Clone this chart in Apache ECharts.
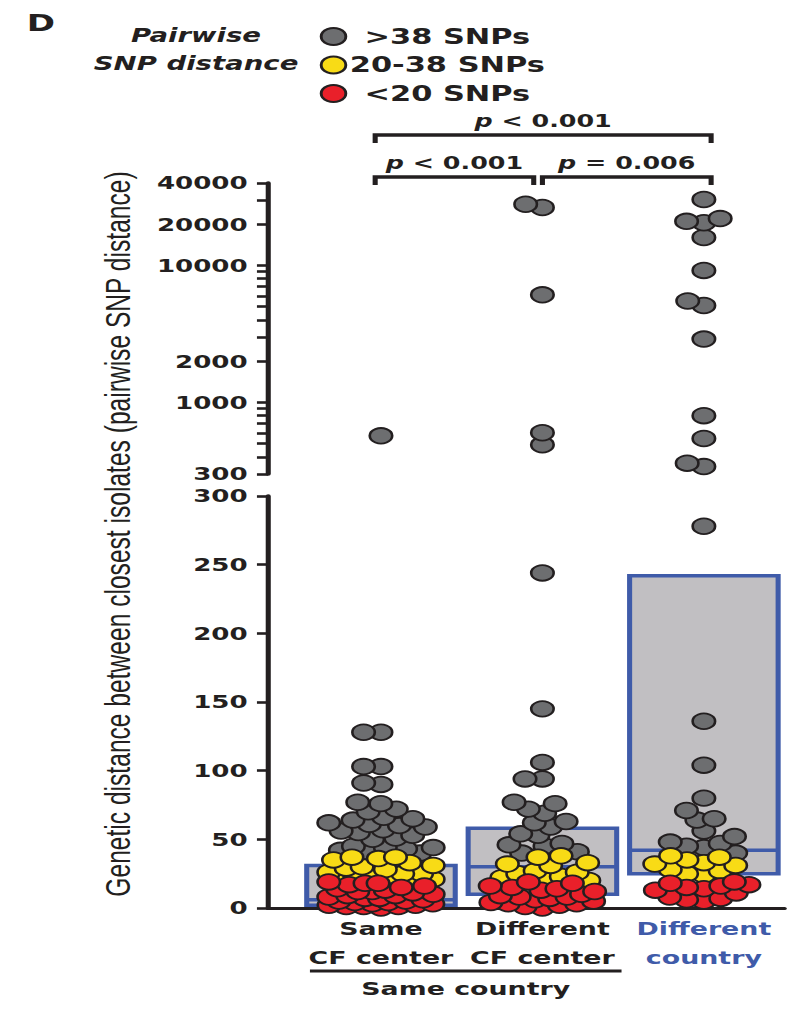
<!DOCTYPE html>
<html>
<head>
<meta charset="utf-8">
<script src="https://cdn.jsdelivr.net/npm/echarts@6/dist/echarts.min.js"></script>
<style>
html, body { margin: 0; padding: 0; background: #fff; overflow: hidden; }
/* the source figure is stretched sideways, so the chart is drawn narrow and widened */
#chart { width: 559.31px; height: 1009px; transform: scaleX(1.45); transform-origin: 0 0; }
</style>
</head>
<body>
<div id="chart"></div>
<script>
// 数据
var categories = ['Same\nCF center', 'Different\nCF center', 'Different\ncountry'];
var classNames = ['>38 SNPs', '20-38 SNPs', '<20 SNPs'];
var classColors = ['#6d6e70', '#f8db16', '#e9202a'];

var sameCenter = [570, 128, 128, 103, 103, 91, 90, 77, 76, 72, 70, 66, 65, 64, 62, 61, 60, 59, 57, 56, 55, 53, 51, 50, 45, 44, 44, 43, 42, 41, 40,
    37, 37, 36, 35, 33, 31, 30, 29, 28, 26, 25, 25, 24, 23, 22, 21, 21, 20,
    19, 18, 18, 17, 16, 15, 14, 13, 12, 12, 11, 10, 9, 9, 8, 7, 7, 6, 5, 5, 4, 4, 3, 3, 2, 2, 1, 1, 1, 0];
var diffCenter = [28000, 26500, 6100, 600, 490, 244, 145, 106, 94, 94, 77, 76, 72, 69, 63, 62, 59, 54, 53, 47, 46, 45, 41, 40,
    38, 37, 33, 32, 31, 27, 26, 25, 23, 22, 21, 20,
    19, 18, 16, 15, 14, 13, 12, 10, 9, 8, 8, 7, 6, 5, 4, 3, 3, 2, 1, 0];
var diffCountry = [30300, 22000, 21000, 20500, 16000, 9200, 5500, 5100, 2900, 800, 545, 360, 340, 278, 136, 104, 80, 71, 65, 64, 56, 52, 48, 47, 45, 44, 40,
    38, 37, 35, 33, 32, 31, 28, 27, 25, 24,
    19, 18, 17, 16, 15, 14, 13, 11, 8, 7, 6, 5];

var boxQ1 = [2, 10, 25];
var boxMedian = [6, 30, 42];
var boxQ3 = [31, 58, 242];

var logTickValues = [300, 400, 500, 600, 700, 800, 900, 1000, 2000, 3000, 4000, 5000, 6000, 7000, 8000, 9000, 10000, 20000, 30000, 40000];
var logLabelValues = [300, 1000, 2000, 10000, 20000, 40000];

var bracketPairs = [[0, 1], [1, 2], [0, 2]];
var bracketLevels = [0, 0, 1];
var pLabels = ['< 0.001', '= 0.006', '< 0.001'];

var groupPairs = [[0, 1]];
var groupNames = ['Same country'];

var ink = '#231f20';
var blue = '#3f5ba9';
var boldFont = 'DejaVu Sans';

var chart = echarts.init(document.getElementById('chart'), null, { renderer: 'svg' });

function classOf(v) {
    if (v > 38) return 0;
    if (v >= 20) return 1;
    return 2;
}

function renderBox(params, api) {
    var half = 0.46;
    var cat = api.value(0);
    var tl = api.coord([cat - half, api.value(3)]);
    var br = api.coord([cat + half, api.value(1)]);
    var m = api.coord([cat, api.value(2)]);
    return {
        type: 'group',
        children: [{
            type: 'rect',
            shape: { x: tl[0], y: tl[1], width: br[0] - tl[0], height: br[1] - tl[1] },
            style: { fill: '#c1bfc2', stroke: blue, lineWidth: 3.5 }
        }, {
            type: 'line',
            shape: { x1: tl[0], y1: m[1], x2: br[0], y2: m[1] },
            style: { stroke: blue, lineWidth: 3.5 }
        }]
    };
}

function renderBracket(params, api) {
    var a = api.value(0), b = api.value(1), level = api.value(2);
    var top = params.coordSys.y;
    var x0 = api.coord([a, 3])[0] + (a === 1 ? 0 : -4);
    var x1 = api.coord([b, 3])[0] + (b === 1 ? -6 : 5);
    var y = top - 6 - level * 42;
    return {
        type: 'group',
        children: [{
            type: 'polyline',
            shape: { points: [[x0, y + 8], [x0, y], [x1, y], [x1, y + 8]] },
            style: { stroke: ink, lineWidth: 3.5, fill: null }
        }, {
            type: 'text',
            style: {
                text: '{i|p} ' + pLabels[params.dataIndex],
                x: (x0 + x1) / 2, y: y - 5,
                align: 'center', verticalAlign: 'bottom',
                fontSize: 17.5, fontFamily: boldFont, fontWeight: 'bold', fill: ink,
                rich: { i: { fontSize: 17.5, fontFamily: boldFont, fontWeight: 'bold', fontStyle: 'italic', fill: ink } }
            }
        }]
    };
}

function renderGroup(params, api) {
    var a = api.value(0), b = api.value(1);
    var bottom = params.coordSys.y + params.coordSys.height;
    var x0 = api.coord([a - 0.44, 0])[0];
    var x1 = api.coord([b + 0.49, 0])[0];
    return {
        type: 'group',
        children: [{
            type: 'line',
            shape: { x1: x0, y1: bottom + 63, x2: x1, y2: bottom + 63 },
            style: { stroke: ink, lineWidth: 3 }
        }, {
            type: 'text',
            style: {
                text: groupNames[params.dataIndex],
                x: (x0 + x1) / 2, y: bottom + 81,
                align: 'center', verticalAlign: 'middle',
                fontSize: 18.5, fontFamily: boldFont, fontWeight: 'bold', fill: ink
            }
        }]
    };
}

var xCommon = { type: 'value', min: -0.7, max: 2.5, splitLine: { show: false } };
var dotStyle = function (k) {
    return { color: classColors[k], borderColor: ink, borderWidth: 1.8, opacity: 1 };
};

var series = [{
    id: 'boxes', type: 'custom', xAxisIndex: 1, yAxisIndex: 1, silent: true, z: 1,
    renderItem: renderBox, encode: { x: 0, y: [1, 2, 3] },
    data: boxQ1.map(function (q, i) { return [i, q, boxMedian[i], boxQ3[i]]; })
}];
for (var k = 0; k < 3; k++) {
    series.push({
        id: 'low' + k, name: classNames[k], type: 'scatter', xAxisIndex: 1, yAxisIndex: 1,
        symbolSize: 15.5, itemStyle: dotStyle(k), clip: false, z: 3 + k, data: []
    });
}
series.push({
    id: 'high0', name: classNames[0], type: 'scatter', xAxisIndex: 0, yAxisIndex: 0,
    symbolSize: 15.5, itemStyle: dotStyle(0), clip: false, z: 3, data: []
});
series.push({
    id: 'brackets', type: 'custom', xAxisIndex: 0, yAxisIndex: 0, silent: true, clip: false,
    renderItem: renderBracket, encode: { x: [0, 1] },
    data: bracketPairs.map(function (p, i) { return [p[0], p[1], bracketLevels[i]]; })
});
series.push({
    id: 'groups', type: 'custom', xAxisIndex: 1, yAxisIndex: 1, silent: true, clip: false,
    renderItem: renderGroup, encode: { x: [0, 1] },
    data: groupPairs
});

var option = {
    animation: false,
    backgroundColor: '#fff',
    textStyle: { fontFamily: boldFont },
    legend: {
        orient: 'vertical', left: 220.5, top: 26, padding: 0,
        itemWidth: 20, itemHeight: 17, itemGap: 7.5, icon: 'circle',
        selectedMode: false,
        data: classNames,
        formatter: function (name) { return '{r|' + name + '}'; },
        textStyle: {
            fontSize: 21, fontFamily: boldFont, fontWeight: 'bold', color: ink, lineHeight: 17,
            rich: { r: { width: 127, align: 'center', fontSize: 21, fontFamily: boldFont, fontWeight: 'bold', color: ink, lineHeight: 17 } }
        }
    },
    graphic: [{
        type: 'text', left: 18.4, top: 11,
        style: { text: 'D', fontSize: 23.5, fontFamily: boldFont, fontWeight: 'bold', fill: ink }
    }, {
        type: 'text', x: 135.2, y: 50,
        style: {
            text: 'Pairwise\nSNP distance', align: 'center', verticalAlign: 'middle',
            fontSize: 19, lineHeight: 28, fontFamily: boldFont, fontWeight: 'bold', fontStyle: 'italic', fill: ink
        }
    }, {
        type: 'text', x: 80.7, y: 534, rotation: Math.PI / 2,
        style: {
            text: 'Genetic distance between closest isolates (pairwise SNP distance)',
            align: 'center', verticalAlign: 'middle',
            fontSize: 24.6, fontFamily: 'Liberation Sans', fill: ink
        }
    }],
    grid: [
        { left: 184.8, right: 17.9, top: 183, height: 291 },
        { left: 184.8, right: 17.9, top: 496, height: 412 }
    ],
    xAxis: [
        Object.assign({ gridIndex: 0, show: false }, xCommon),
        Object.assign({
            gridIndex: 1,
            axisLine: { onZero: false, lineStyle: { color: ink, width: 3 } },
            axisTick: { show: false },
            axisLabel: {
                customValues: [0, 1, 2], margin: 6,
                formatter: function (v) {
                    var lines = categories[Math.round(v)].split('\n');
                    var key = Math.round(v) === 2 ? 'b' : 'k';
                    return lines.map(function (s) { return '{' + key + '|' + s + '}'; }).join('\n');
                },
                rich: {
                    k: { fontSize: 18.5, fontFamily: boldFont, fontWeight: 'bold', color: ink, lineHeight: 29 },
                    b: { fontSize: 18.5, fontFamily: boldFont, fontWeight: 'bold', color: blue, lineHeight: 29 }
                }
            }
        }, xCommon)
    ],
    yAxis: [{
        gridIndex: 0, type: 'value',
        min: Math.log10(300), max: Math.log10(40000),
        splitLine: { show: false },
        axisLine: { show: true, onZero: false, lineStyle: { color: ink, width: 3.5 } },
        axisTick: { show: true, length: 7.6, customValues: logTickValues.map(Math.log10), lineStyle: { color: ink, width: 2.6 } },
        axisLabel: {
            customValues: logLabelValues.map(Math.log10), margin: 14,
            fontSize: 18, fontFamily: boldFont, fontWeight: 'bold', color: ink,
            formatter: function (v) { return String(Math.round(Math.pow(10, v))); }
        }
    }, {
        gridIndex: 1, type: 'value', min: 0, max: 300, interval: 50,
        splitLine: { show: false },
        axisLine: { show: true, onZero: false, lineStyle: { color: ink, width: 3.5 } },
        axisTick: { show: true, length: 7.6, lineStyle: { color: ink, width: 2.6 } },
        axisLabel: { margin: 14, fontSize: 18, fontFamily: boldFont, fontWeight: 'bold', color: ink }
    }],
    series: series
};

chart.setOption(option);

// 蜂群排布：从下往上放点，找离中心最近的空位；太挤时在限定宽度内找最松的位置
function swarm(vals, cat, g) {
    var gap = 12;
    var cap = 36;
    var unit = chart.convertToPixel({ gridIndex: g }, [cat + 1, 0])[0] - chart.convertToPixel({ gridIndex: g }, [cat, 0])[0];
    var pts = vals.map(function (v) {
        var yv = g === 0 ? Math.log10(v) : v;
        return { v: v, yv: yv, py: chart.convertToPixel({ gridIndex: g }, [cat, yv])[1] };
    });
    pts.sort(function (a, b) { return b.py - a.py; });
    var placed = [];
    pts.forEach(function (p) {
        var blocks = [];
        placed.forEach(function (q) {
            var dy = Math.abs(p.py - q.py);
            if (dy < gap) {
                var dx = Math.sqrt(gap * gap - dy * dy);
                blocks.push([q.dx - dx, q.dx + dx]);
            }
        });
        var cands = [0];
        blocks.forEach(function (b) { cands.push(b[0], b[1]); });
        cands.sort(function (a, b) { return Math.abs(a) - Math.abs(b); });
        var found = null;
        for (var i = 0; i < cands.length; i++) {
            var c = cands[i];
            if (Math.abs(c) > cap) break;
            var ok = blocks.every(function (b) { return c <= b[0] + 1e-6 || c >= b[1] - 1e-6; });
            if (ok) { found = c; break; }
        }
        if (found === null) {
            var bestScore = -1;
            for (var x = -cap; x <= cap; x += 1) {
                var score = Infinity;
                placed.forEach(function (q) {
                    var d = Math.sqrt((x - q.dx) * (x - q.dx) + (p.py - q.py) * (p.py - q.py));
                    if (d < score) score = d;
                });
                if (score > bestScore + 1e-6 || (Math.abs(score - bestScore) < 1e-6 && Math.abs(x) < Math.abs(found))) {
                    bestScore = score;
                    found = x;
                }
            }
        }
        p.dx = found;
        placed.push(p);
    });
    return pts.map(function (p) { return [cat + p.dx / unit, p.yv, p.v]; });
}

var lowData = [[], [], []];
var highData = [];
[sameCenter, diffCenter, diffCountry].forEach(function (vals, cat) {
    swarm(vals.filter(function (v) { return v >= 300; }), cat, 0).forEach(function (d) { highData.push(d); });
    swarm(vals.filter(function (v) { return v < 300; }), cat, 1).forEach(function (d) { lowData[classOf(d[2])].push(d); });
});

chart.setOption({
    series: [
        { id: 'low0', data: lowData[0] },
        { id: 'low1', data: lowData[1] },
        { id: 'low2', data: lowData[2] },
        { id: 'high0', data: highData }
    ]
});
</script>
</body>
</html>
